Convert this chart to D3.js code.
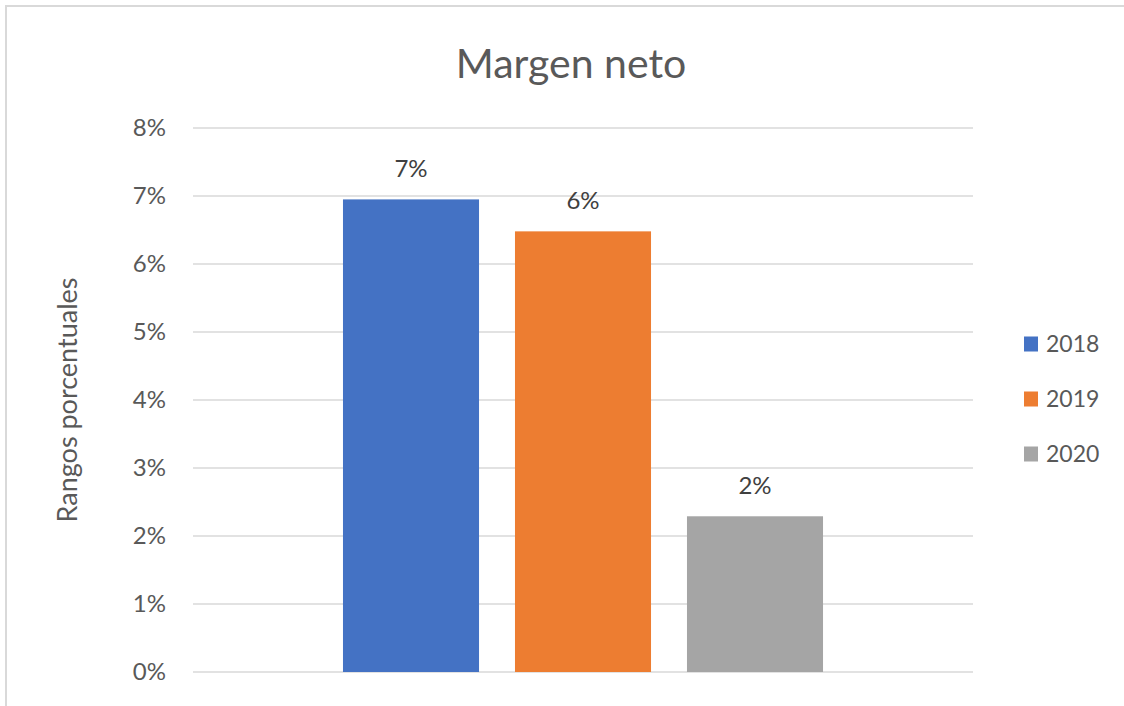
<!DOCTYPE html>
<html>
<head>
<meta charset="utf-8">
<script src="https://cdn.jsdelivr.net/npm/d3@7"></script>
<style>
  html, body { margin: 0; padding: 0; background: #fff; }
  svg { display: block; font-family: Lato, "Open Sans", sans-serif; }
</style>
</head>
<body>
<svg id="chart" width="1124" height="706"></svg>
<script>
// Net margin per year
const categories = ["Margen neto"];
const series = ["2018", "2019", "2020"];
const values = [0.0695, 0.0648, 0.0229];
const colors = ["#4472C4", "#ED7D31", "#A5A5A5"];
const yTicks = [0, 0.01, 0.02, 0.03, 0.04, 0.05, 0.06, 0.07, 0.08];

const svg = d3.select("#chart");
const W = 1124, H = 706;
const plot = { left: 193, right: 973, top: 128, bottom: 672 };

// chart frame
svg.append("rect")
  .attr("x", 6).attr("y", 6)
  .attr("width", W).attr("height", H)
  .attr("fill", "#fff")
  .attr("stroke", "#d9d9d9").attr("stroke-width", 2);

const y = d3.scaleLinear().domain([0, 0.08]).range([plot.bottom, plot.top]);

const x0 = d3.scaleBand().domain(categories).range([plot.left, plot.right]);
const x1 = d3.scaleBand().domain(series)
  .range([0, x0.bandwidth()])
  .paddingInner(0.209).paddingOuter(0.872);

// gridlines
svg.append("g")
  .selectAll("line")
  .data(yTicks)
  .join("line")
  .attr("x1", plot.left).attr("x2", plot.right)
  .attr("y1", d => y(d)).attr("y2", d => y(d))
  .attr("stroke", "#d9d9d9").attr("stroke-width", 1.5);

// y axis labels
const yAxis = d3.axisLeft(y).tickValues(yTicks).tickFormat(d3.format(".0%")).tickSize(0).tickPadding(0);
const gy = svg.append("g").attr("transform", `translate(166,0)`).call(yAxis);
gy.select(".domain").remove();
gy.selectAll("text")
  .attr("fill", "#595959")
  .attr("font-size", 24)
  .attr("font-family", "Lato, sans-serif");

// y axis title
svg.append("text")
  .attr("transform", "translate(77,400) rotate(-90)")
  .attr("text-anchor", "middle")
  .attr("fill", "#595959")
  .attr("font-size", 27)
  .text("Rangos porcentuales");

// title
svg.append("text")
  .attr("x", 571).attr("y", 78)
  .attr("text-anchor", "middle")
  .attr("fill", "#595959")
  .attr("font-size", 41)
  .text("Margen neto");

const data = series.map((s, i) => ({ s, v: values[i], c: colors[i] }));

// bars
const g = svg.append("g").attr("transform", `translate(${x0(categories[0])},0)`);
g.selectAll("rect")
  .data(data)
  .join("rect")
  .attr("x", d => x1(d.s))
  .attr("width", x1.bandwidth())
  .attr("y", d => y(d.v))
  .attr("height", d => y(0) - y(d.v))
  .attr("fill", d => d.c);

// value labels
g.selectAll("text.val")
  .data(data)
  .join("text")
  .attr("class", "val")
  .attr("x", d => x1(d.s) + x1.bandwidth() / 2)
  .attr("y", d => y(d.v) - 22)
  .attr("text-anchor", "middle")
  .attr("fill", "#404040")
  .attr("font-size", 24)
  .text(d => d3.format(".0%")(d.v));

// legend
const lg = svg.append("g");
const items = lg.selectAll("g").data(data).join("g")
  .attr("transform", (d, i) => `translate(1024,${344 + i * 55})`);
items.append("rect")
  .attr("x", 0).attr("y", -7.5)
  .attr("width", 14).attr("height", 15)
  .attr("fill", d => d.c);
items.append("text")
  .attr("x", 22).attr("y", 0)
  .attr("dy", "0.36em")
  .attr("fill", "#595959")
  .attr("font-size", 23)
  .text(d => d.s);
</script>
</body>
</html>
